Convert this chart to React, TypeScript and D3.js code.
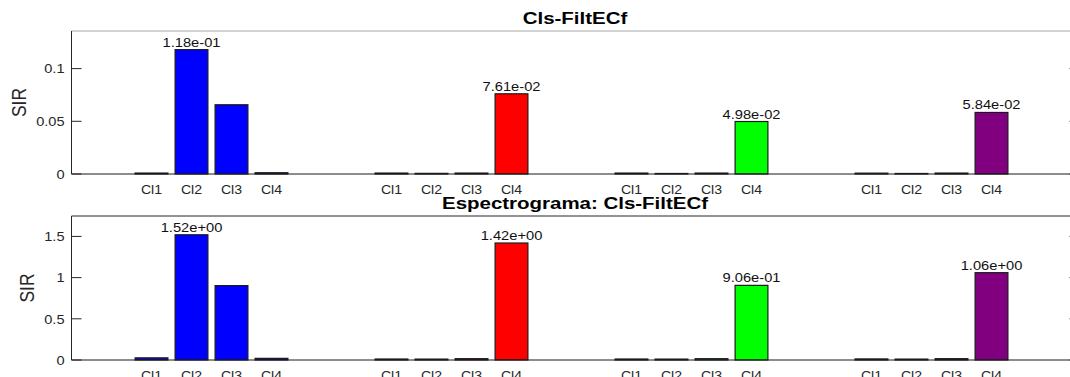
import { useMemo } from "react";
import { max, scaleLinear } from "d3";

const W = 1070;
const H = 377;
const FONT = "'Liberation Sans', Arial, Helvetica, sans-serif";

// x layout: 4 groups of 4 bars, group g / bar i sits on slot 6g + i
const X_DOMAIN: [number, number] = [-2, 23.2];
const X_RANGE: [number, number] = [71.5, 1079.5];
const BAR_FRAC = 0.82;

const classes = ["Cl1", "Cl2", "Cl3", "Cl4"];
const groupColors = ["#0000ff", "#ff0000", "#00ff00", "#800080"];

// SIR per group (rows) and class (cols)
const sirFilt = [
  [0.0009, 0.118, 0.0657, 0.0012],
  [0.0009, 0.0006, 0.0009, 0.0761],
  [0.0009, 0.0005, 0.0009, 0.0498],
  [0.0008, 0.0005, 0.0009, 0.0584],
];
const sirSpec = [
  [0.026, 1.52, 0.903, 0.02],
  [0.012, 0.011, 0.016, 1.42],
  [0.012, 0.011, 0.016, 0.906],
  [0.013, 0.011, 0.016, 1.06],
];

const filtTicks = [0, 0.05, 0.1];
const specTicks = [0, 0.5, 1, 1.5];

const sci = (v: number) => {
  const [m, e] = v.toExponential(2).split("e");
  const sign = e.startsWith("-") ? "-" : "+";
  const digits = e.replace(/[+-]/, "").padStart(2, "0");
  return `${m}e${sign}${digits}`;
};

type PanelProps = {
  title: string;
  values: number[][];
  ticks: number[];
  top: number;
  bottom: number;
  titleY: number;
  labelX: number;
  frameColor: string;
};

function Panel({ title, values, ticks, top, bottom, titleY, labelX, frameColor }: PanelProps) {
  const x = useMemo(() => scaleLinear().domain(X_DOMAIN).range(X_RANGE), []);
  const step = x(1) - x(0);
  const bw = step * BAR_FRAC;

  const y = useMemo(() => {
    const hi = max(values.flat()) ?? 1;
    return scaleLinear().domain([0, hi * 1.15]).range([bottom, top]);
  }, [values, top, bottom]);

  const [left, right] = X_RANGE;
  const midX = 575;

  return (
    <g>
      {/* frame */}
      <line x1={left} x2={right} y1={top} y2={top} stroke={frameColor} strokeWidth={1} />
      <line x1={left} x2={left} y1={top} y2={bottom} stroke="#262626" strokeWidth={1} />
      <line x1={right} x2={right} y1={top} y2={bottom} stroke="#262626" strokeWidth={1} />

      {ticks.map((t) => (
        <g key={t}>
          <line x1={left} x2={left + 10} y1={y(t)} y2={y(t)} stroke="#262626" />
          <line x1={right - 10} x2={right} y1={y(t)} y2={y(t)} stroke="#262626" />
          <text
            transform={`translate(${left - 7},${y(t)}) scale(1.08,1)`}
            dy="0.36em"
            textAnchor="end"
            fontSize={13.5}
            fontFamily={FONT}
            fill="#262626"
          >
            {String(t)}
          </text>
        </g>
      ))}

      {values.map((row, g) =>
        row.map((v, i) => {
          const cx = x(6 * g + i);
          return (
            <rect
              key={`${g}-${i}`}
              x={cx - bw / 2}
              y={y(v)}
              width={bw}
              height={Math.max(y(0) - y(v), 0.5)}
              fill={groupColors[g]}
              stroke="#1a1a1a"
              strokeWidth={1.2}
            />
          );
        })
      )}

      {/* zero line */}
      <line x1={left} x2={right} y1={y(0)} y2={y(0)} stroke="#1a1a1a" strokeWidth={1} />

      {/* value label on the tallest bar of each group */}
      {values.map((row, g) => {
        const v = max(row) ?? 0;
        const i = row.indexOf(v);
        return (
          <text
            key={g}
            transform={`translate(${x(6 * g + i)},${y(v) - 3}) scale(1.13,1)`}
            textAnchor="middle"
            fontSize={13}
            fontFamily={FONT}
            fill="#111"
          >
            {sci(v)}
          </text>
        );
      })}

      {values.map((row, g) =>
        row.map((_, i) => (
          <text
            key={`l${g}-${i}`}
            transform={`translate(${x(6 * g + i)},${bottom + 19.5}) scale(1.13,1)`}
            textAnchor="middle"
            fontSize={12.5}
            fontFamily={FONT}
            fill="#262626"
          >
            {classes[i]}
          </text>
        ))
      )}

      <text
        transform={`translate(${labelX},${(top + bottom) / 2}) scale(1.12,1) rotate(-90)`}
        textAnchor="middle"
        fontSize={17.5}
        fontFamily={FONT}
        fill="#262626"
      >
        SIR
      </text>

      <text
        transform={`translate(${midX},${titleY}) scale(1.28,1)`}
        textAnchor="middle"
        fontSize={16}
        fontWeight="bold"
        fontFamily={FONT}
        fill="#000"
      >
        {title}
      </text>
    </g>
  );
}

export default function App() {
  return (
    <svg
      width={W}
      height={H}
      viewBox={`0 0 ${W} ${H}`}
      style={{ position: "absolute", left: 0, top: 0, background: "#fff" }}
    >
      <rect width={W} height={H} fill="#fff" />
      <Panel
        title="Cls-FiltECf"
        values={sirFilt}
        ticks={filtTicks}
        top={31}
        bottom={174}
        titleY={24}
        labelX={26}
        frameColor="#a6a6a6"
      />
      <Panel
        title="Espectrograma: Cls-FiltECf"
        values={sirSpec}
        ticks={specTicks}
        top={216}
        bottom={360}
        titleY={209}
        labelX={34}
        frameColor="#262626"
      />
    </svg>
  );
}
